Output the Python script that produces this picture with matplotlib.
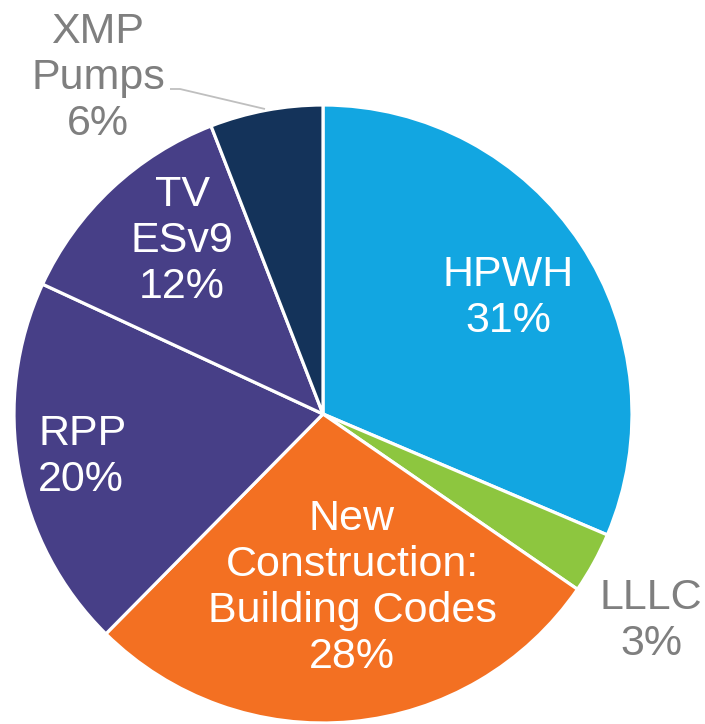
import matplotlib
matplotlib.use("Agg")
import matplotlib.pyplot as plt

categories = ["HPWH", "LLLC", "New\nConstruction:\nBuilding Codes", "RPP", "TV\nESv9", "XMP\nPumps"]
values = [31.4, 3.2, 27.8, 19.5, 12.2, 5.9]
colors = ["#12A6E1", "#8DC63F", "#F37022", "#473F87", "#473F87", "#14335A"]

W, H = 705, 724
fig = plt.figure(figsize=(W / 100, H / 100), dpi=100)
ax = fig.add_axes([0, 0, 1, 1])
ax.set_xlim(0, W)
ax.set_ylim(0, H)
ax.set_aspect("equal")
ax.axis("off")

cx, cy, r = 323, H - 414, 309
wedges, _ = ax.pie(values, colors=colors, startangle=90, counterclock=False,
                   center=(cx, cy), radius=r, frame=True,
                   wedgeprops=dict(edgecolor="white", linewidth=2.3))
ax.set_xlim(0, W)
ax.set_ylim(0, H)
ax.axis("off")

font = ["Liberation Sans", "DejaVu Sans"]
fs = 31
labels = [f"{c}\n{round(v):d}%" for c, v in zip(categories, values)]
# label block centers in pixel coordinates (x, y from top)
positions = [(508, 298, "white", "center"),
             (651, 621, "#7F7F7F", "center"),
             (352, 588, "white", "center"),
             (38, 457, "white", "left"),
             (182, 241, "white", "center"),
             (98, 78, "#7F7F7F", "center")]
for lab, (x, y, col, ha) in zip(labels, positions):
    ax.text(x, H - y, lab, ha=ha, va="center", multialignment=ha, color=col,
            fontsize=fs, family=font, linespacing=1.2)

# leader line for XMP Pumps
ax.plot([170, 180, 265], [H - 89, H - 89, H - 109], color="#BFBFBF", lw=1.3,
        solid_capstyle="butt")

fig.savefig("out.png", dpi=100)
